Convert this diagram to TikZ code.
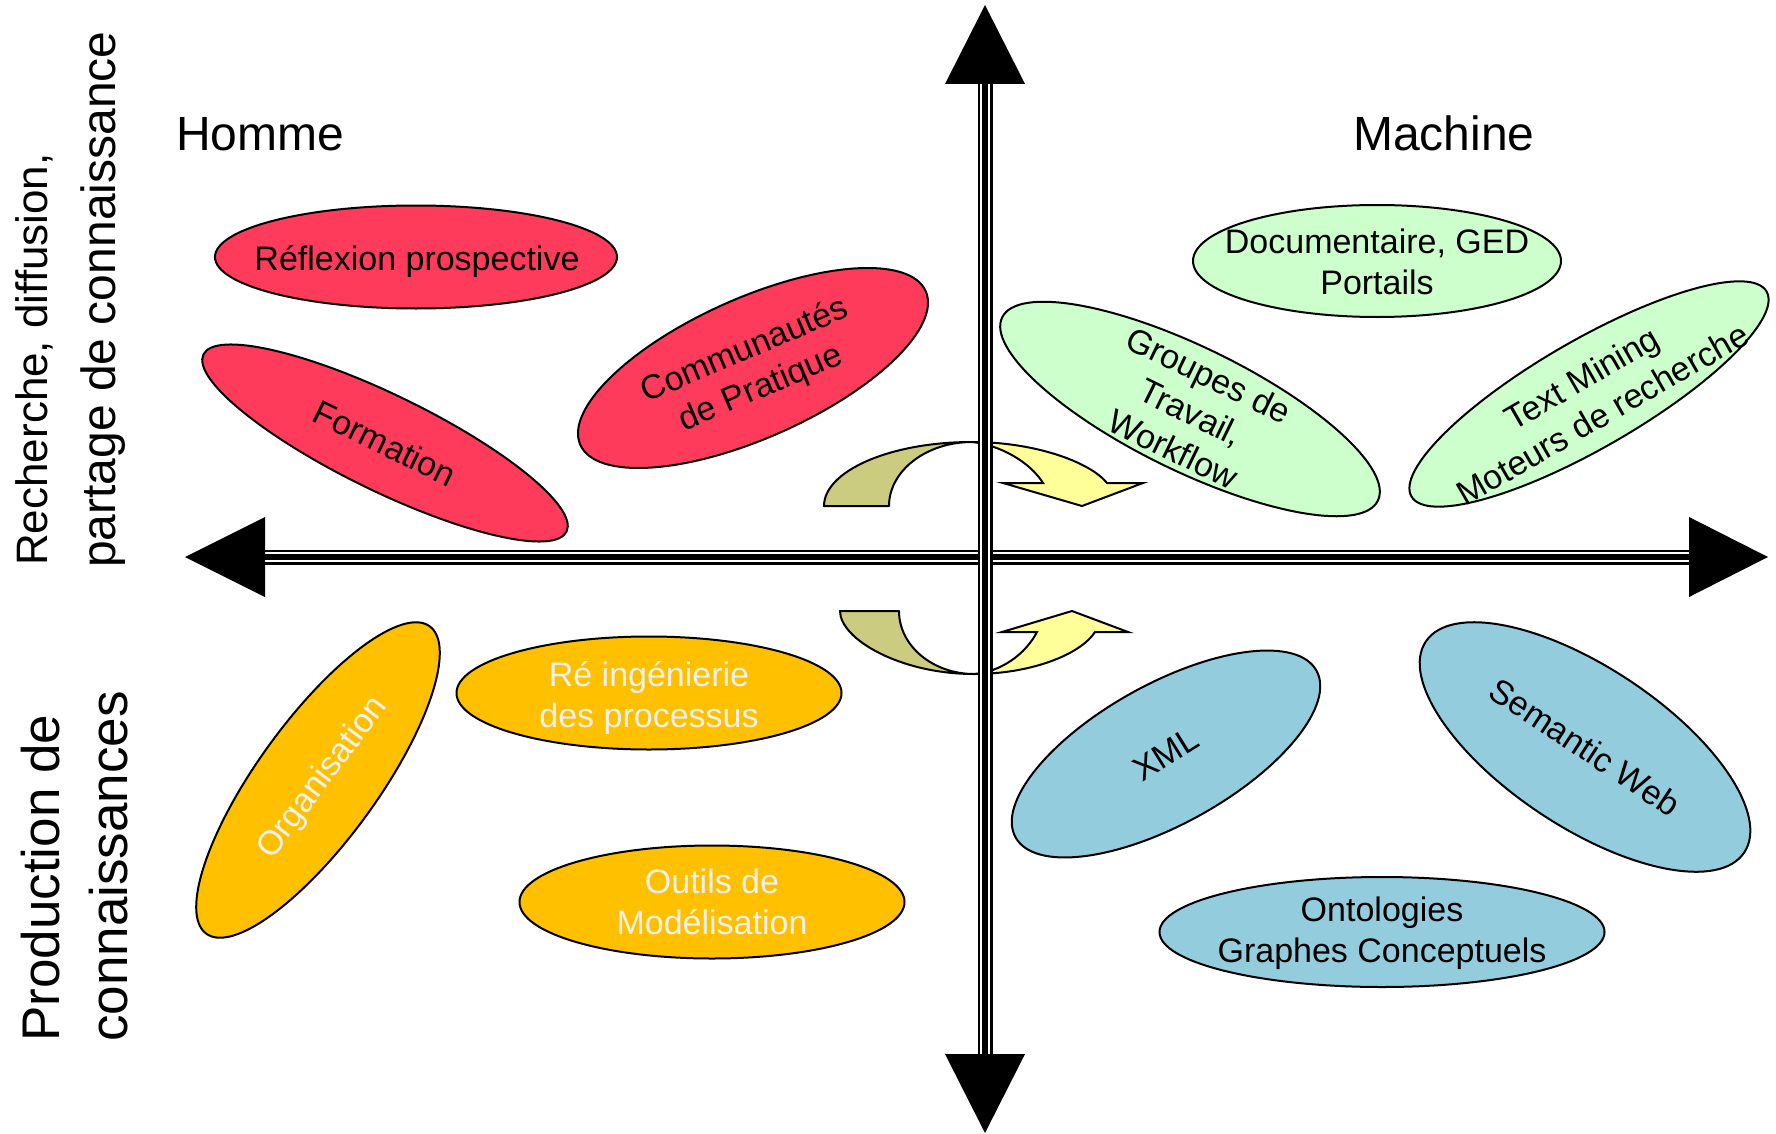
\documentclass[tikz,border=0pt]{standalone}
\usepackage{fontspec}
\setmainfont{Liberation Sans}
\usetikzlibrary{shapes.geometric}
\definecolor{cred}{RGB}{255,59,92}
\definecolor{cgreen}{RGB}{204,255,204}
\definecolor{corange}{RGB}{255,192,0}
\definecolor{cblue}{RGB}{147,205,221}
\definecolor{colive}{RGB}{204,204,128}
\definecolor{cyellow}{RGB}{255,255,153}
\definecolor{ctxtw}{RGB}{240,240,240}
\begin{document}
\begin{tikzpicture}[x=1pt,y=-1pt,
  bubble/.style={draw=black, line width=2pt, ellipse, inner sep=0pt, outer sep=0pt},
  btext/.style={font=\fontsize{34}{41}\selectfont, align=center, inner sep=0pt},
  bigtext/.style={font=\fontsize{48}{56}\selectfont, inner sep=0pt},
  sidetext/.style={inner sep=0pt, rotate=90, anchor=base west},
  axout/.style={line width=15pt, black},
  axmid/.style={line width=10pt, white},
  axin/.style={line width=6pt, black},
  arrowback/.style={draw=black, line width=2pt, fill=colive, line join=round},
  arrowfront/.style={draw=black, line width=2pt, fill=cyellow, line join=miter}]
\useasboundingbox (0,0) rectangle (1776,1134);
\fill[white] (0,0) rectangle (1776,1134);

% titles
\node[bigtext, anchor=base west] (homme) at (176,151) {Homme};
\node[bigtext, anchor=base west] (machine) at (1353,151) {Machine};

% side labels
\node[sidetext, font=\fontsize{44}{52}\selectfont] (rech1) at (47,566) {Recherche, diffusion,};
\node[sidetext, font=\fontsize{48}{56}\selectfont] (rech2) at (115,568) {partage de connaissance};
\node[sidetext, font=\fontsize{53}{60}\selectfont] (prod1) at (59,1042) {Production de};
\node[sidetext, font=\fontsize{53}{60}\selectfont] (prod2) at (127,1042) {connaissances};

% red ellipses
\node[bubble, fill=cred, minimum width=402pt, minimum height=103pt] (reflexion) at (416,257) {};
\node[btext] (reflexion-t) at (417,262) {Réflexion prospective};
\node[bubble, fill=cred, minimum width=404pt, minimum height=96pt, rotate=-26] (formation) at (385,443) {};
\node[btext, rotate=-26] (formation-t) at (formation.center) {Formation};
\node[bubble, fill=cred, minimum width=378pt, minimum height=140pt, rotate=24] (communautes) at (753,368) {};
\node[btext, rotate=23] (communautes-t) at (753,370) {Communautés\\de Pratique};

% green ellipses
\node[bubble, fill=cgreen, minimum width=368pt, minimum height=112pt] (documentaire) at (1377,261) {};
\node[btext] (documentaire-t) at (1377,262) {Documentaire, GED\\Portails};
\node[bubble, fill=cgreen, minimum width=418pt, minimum height=124pt, rotate=-26] (groupes) at (1190,409) {};
\node[btext, rotate=-26] (groupes-t) at (1191,412) {Groupes de\\Travail,\\Workflow};
\node[bubble, fill=cgreen, minimum width=410pt, minimum height=108pt, rotate=30] (textmining) at (1589,394) {};
\node[btext, rotate=30] (textmining-t) at (1592,396) {Text Mining\\Moteurs de recherche};

% orange ellipses
\node[bubble, fill=corange, minimum width=380pt, minimum height=120pt, rotate=54] (organisation) at (318,780) {};
\node[btext, text=ctxtw, rotate=53] (organisation-t) at (323,778) {Organisation};
\node[bubble, fill=corange, minimum width=385pt, minimum height=113pt] (reing) at (649,693) {};
\node[btext, text=ctxtw] (reing-t) at (649,698) {Ré ingénierie\\des processus};
\node[bubble, fill=corange, minimum width=385pt, minimum height=113pt] (outils) at (712,902) {};
\node[btext, text=ctxtw] (outils-t) at (712,902) {Outils de\\Modélisation};

% blue ellipses
\node[bubble, fill=cblue, minimum width=344pt, minimum height=140pt, rotate=29] (xml) at (1166,754) {};
\node[btext, rotate=32] (xml-t) at (xml.center) {XML};
\node[bubble, fill=cblue, minimum width=382pt, minimum height=160pt, rotate=-33.5] (semantic) at (1585,747) {};
\node[btext, rotate=-33.5] (semantic-t) at (semantic.center) {Semantic Web};
\node[bubble, fill=cblue, minimum width=445pt, minimum height=110pt] (ontologies) at (1382,932) {};
\node[btext] (ontologies-t) at (1382,933) {Ontologies\\Graphes Conceptuels};

% curved arrows
\filldraw[arrowback] (824,506) -- (889,506) .. controls (889,471) and (926,442) .. (972,442)
   .. controls (890,442) and (824,471) .. (824,506) -- cycle;
\filldraw[arrowfront] (972,442) .. controls (1035,442) and (1090,462) .. (1107,483)
   -- (1143,483) -- (1082,506) -- (1003,483) -- (1043,483)
   .. controls (1030,462) and (1000,445) .. (972,442) -- cycle;
\filldraw[arrowback] (840,611) -- (899,611) .. controls (899,646) and (933,674) .. (974,674)
   .. controls (900,674) and (840,639) .. (840,611) -- cycle;
\filldraw[arrowfront] (974,674) .. controls (1030,674) and (1080,655) .. (1095,632)
   -- (1128,632) -- (1072,611) -- (1002,632) -- (1037,632)
   .. controls (1025,655) and (1000,672) .. (974,674) -- cycle;

% axes
\coordinate (hleft) at (265,557);
\coordinate (hright) at (1689,557);
\coordinate (vtop) at (985,84);
\coordinate (vbot) at (985,1054);
\draw[axout] (hleft) -- (hright);
\draw[axmid] (hleft) -- (hright);
\draw[axin] (hleft) -- (hright);
\draw[axout] (vtop) -- (vbot);
\draw[axmid] (vtop) -- (vbot);
\draw[axin] (vtop) -- (vbot);
\fill (hleft) ++(0,-40) -- (185,557) -- (265,597) -- cycle;
\fill (hright) ++(0,-40) -- (1768,557) -- (1689,597) -- cycle;
\fill (vtop) ++(-40,0) -- (985,5) -- (1025,84) -- cycle;
\fill (vbot) ++(-40,0) -- (985,1133) -- (1025,1054) -- cycle;
\end{tikzpicture}
\end{document}
